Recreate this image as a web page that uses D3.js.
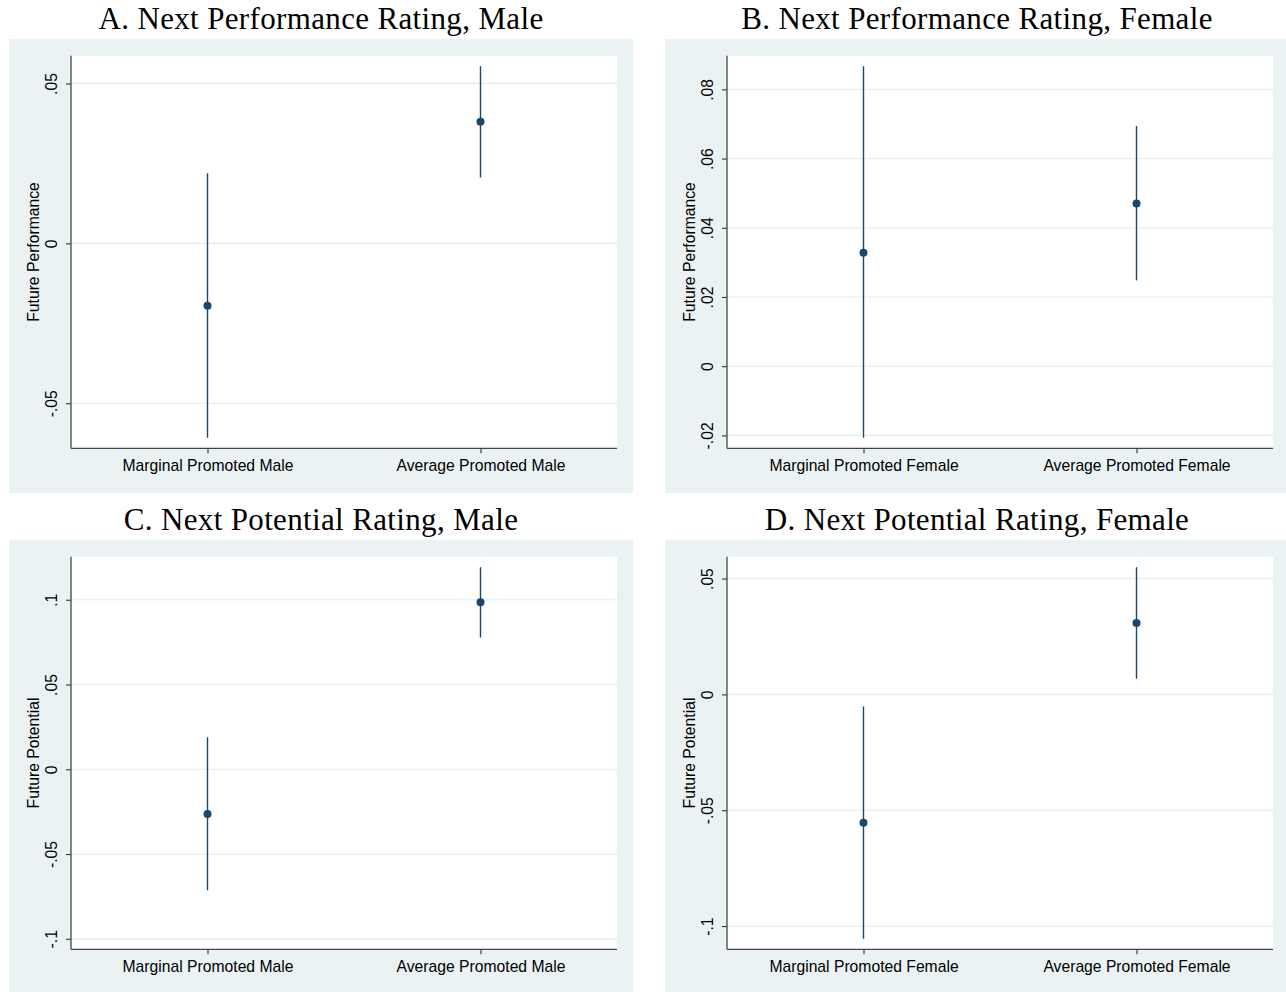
<!DOCTYPE html>
<html>
<head>
<meta charset="utf-8">
<script src="https://cdn.jsdelivr.net/npm/d3@7"></script>
<style>
  html, body { margin: 0; padding: 0; background: #ffffff; }
  svg { display: block; }
</style>
</head>
<body>
<svg id="chart" width="1286" height="992"></svg>
<script>
// ---------------- DATA ----------------
const panelTitles = [
  "A. Next Performance Rating, Male",
  "B. Next Performance Rating, Female",
  "C. Next Potential Rating, Male",
  "D. Next Potential Rating, Female"
];
const yAxisTitles = ["Future Performance", "Future Performance", "Future Potential", "Future Potential"];

const categoriesMale = ["Marginal Promoted Male", "Average Promoted Male"];
const categoriesFemale = ["Marginal Promoted Female", "Average Promoted Female"];

// A. Performance, Male
const perfMaleEst = [-0.0195, 0.0380];
const perfMaleLo  = [-0.0608, 0.0206];
const perfMaleHi  = [0.0219, 0.0554];
// B. Performance, Female
const perfFemaleEst = [0.0328, 0.0470];
const perfFemaleLo  = [-0.0207, 0.0248];
const perfFemaleHi  = [0.0867, 0.0694];
// C. Potential, Male
const potMaleEst = [-0.0264, 0.0985];
const potMaleLo  = [-0.0714, 0.0777];
const potMaleHi  = [0.0189, 0.1192];
// D. Potential, Female
const potFemaleEst = [-0.0554, 0.0308];
const potFemaleLo  = [-0.1055, 0.0068];
const potFemaleHi  = [-0.0052, 0.0549];

// Tick values and labels
const ticksA = [-0.05, 0, 0.05];
const tickLabelsA = ["-.05", "0", ".05"];
const ticksB = [-0.02, 0, 0.02, 0.04, 0.06, 0.08];
const tickLabelsB = ["-.02", "0", ".02", ".04", ".06", ".08"];
const ticksC = [-0.1, -0.05, 0, 0.05, 0.1];
const tickLabelsC = ["-.1", "-.05", "0", ".05", ".1"];
const ticksD = [-0.1, -0.05, 0, 0.05];
const tickLabelsD = ["-.1", "-.05", "0", ".05"];

// ---------------- BUILD ----------------
const panels = [
  { title: panelTitles[0], ytitle: yAxisTitles[0], cats: categoriesMale,   est: perfMaleEst,   lo: perfMaleLo,   hi: perfMaleHi,   ticks: ticksA, labels: tickLabelsA },
  { title: panelTitles[1], ytitle: yAxisTitles[1], cats: categoriesFemale, est: perfFemaleEst, lo: perfFemaleLo, hi: perfFemaleHi, ticks: ticksB, labels: tickLabelsB },
  { title: panelTitles[2], ytitle: yAxisTitles[2], cats: categoriesMale,   est: potMaleEst,    lo: potMaleLo,    hi: potMaleHi,    ticks: ticksC, labels: tickLabelsC },
  { title: panelTitles[3], ytitle: yAxisTitles[3], cats: categoriesFemale, est: potFemaleEst,  lo: potFemaleLo,  hi: potFemaleHi,  ticks: ticksD, labels: tickLabelsD }
];

const svg = d3.select("#chart");
const BG = "#eaf2f3";
const NAVY = "#1a476f";
const GRID = "#e3ecef";
const sansFont = "'Liberation Sans', Arial, Helvetica, sans-serif";
const serifFont = "'Liberation Serif', 'Times New Roman', serif";

const gW = 624, gH = 454;          // gray graph region
const pOffX = 62, pOffY = 16.7;    // plot region offset inside gray
const pW = 546, pH = 392.6;        // plot region size
const innerPad = 10.5;             // plot region margin

panels.forEach((p, i) => {
  const col = i % 2, row = Math.floor(i / 2);
  const x0 = 9 + col * 656, y0 = 39 + row * 501;

  const g = svg.append("g").attr("transform", `translate(${x0},${y0})`);

  // title
  svg.append("text")
    .attr("x", x0 + gW / 2)
    .attr("y", y0 - 9.7)
    .attr("text-anchor", "middle")
    .attr("font-family", serifFont)
    .attr("font-size", 31)
    .attr("letter-spacing", "0.35px")
    .attr("fill", "#000")
    .text(p.title);

  // gray background
  g.append("rect").attr("x", 0).attr("y", 0).attr("width", gW).attr("height", gH).attr("fill", BG);

  const plot = g.append("g").attr("transform", `translate(${pOffX},${pOffY})`);
  plot.append("rect").attr("x", 0).attr("y", 0).attr("width", pW).attr("height", pH).attr("fill", "#ffffff");

  const lo = Math.min(d3.min(p.lo), d3.min(p.ticks));
  const hi = Math.max(d3.max(p.hi), d3.max(p.ticks));
  const y = d3.scaleLinear().domain([lo, hi]).range([pH - innerPad, innerPad]);
  const x = d3.scalePoint().domain(p.cats).range([0, pW]).padding(0.5);

  // gridlines
  plot.append("g").selectAll("line").data(p.ticks).join("line")
    .attr("x1", 0).attr("x2", pW)
    .attr("y1", d => y(d)).attr("y2", d => y(d))
    .attr("stroke", GRID).attr("stroke-width", 1.2);

  // y axis
  const yAxis = d3.axisLeft(y).tickValues(p.ticks)
    .tickFormat((d, k) => p.labels[k]).tickSize(5).tickSizeOuter(0);
  const ya = plot.append("g").call(yAxis);
  ya.select(".domain").remove();
  ya.selectAll(".tick line").attr("stroke", "#333").attr("stroke-width", 1.1);
  ya.selectAll(".tick text")
    .attr("x", 0).attr("dy", 0)
    .attr("text-anchor", "middle")
    .attr("transform", "translate(-13.7,0) rotate(-90)")
    .attr("font-family", sansFont).attr("font-size", 15.7).attr("fill", "#000");

  // x axis
  const xAxis = d3.axisBottom(x).tickSize(5).tickSizeOuter(0);
  const xa = plot.append("g").attr("transform", `translate(0,${pH})`).call(xAxis);
  xa.select(".domain").remove();
  xa.selectAll(".tick line").attr("stroke", "#333").attr("stroke-width", 1.1);
  xa.selectAll(".tick text")
    .attr("y", 22.4).attr("dy", 0)
    .attr("font-family", sansFont).attr("font-size", 15.7).attr("fill", "#000");

  // axis lines
  plot.append("line").attr("x1", 0).attr("x2", 0).attr("y1", 0).attr("y2", pH)
    .attr("stroke", "#444").attr("stroke-width", 1.3);
  plot.append("line").attr("x1", 0).attr("x2", pW).attr("y1", pH).attr("y2", pH)
    .attr("stroke", "#444").attr("stroke-width", 1.3);

  // y axis title
  plot.append("text")
    .attr("transform", `translate(-32,${pH / 2}) rotate(-90)`)
    .attr("text-anchor", "middle")
    .attr("font-family", sansFont).attr("font-size", 15.7).attr("fill", "#000")
    .text(p.ytitle);

  // CI lines
  const rows = p.cats.map((c, k) => ({ cat: c, est: p.est[k], lo: p.lo[k], hi: p.hi[k] }));
  plot.append("g").selectAll("line").data(rows).join("line")
    .attr("x1", d => x(d.cat)).attr("x2", d => x(d.cat))
    .attr("y1", d => y(d.lo)).attr("y2", d => y(d.hi))
    .attr("stroke", NAVY).attr("stroke-width", 1.4);

  // point estimates
  plot.append("g").selectAll("circle").data(rows).join("circle")
    .attr("cx", d => x(d.cat)).attr("cy", d => y(d.est))
    .attr("r", 4).attr("fill", NAVY);
});
</script>
</body>
</html>
